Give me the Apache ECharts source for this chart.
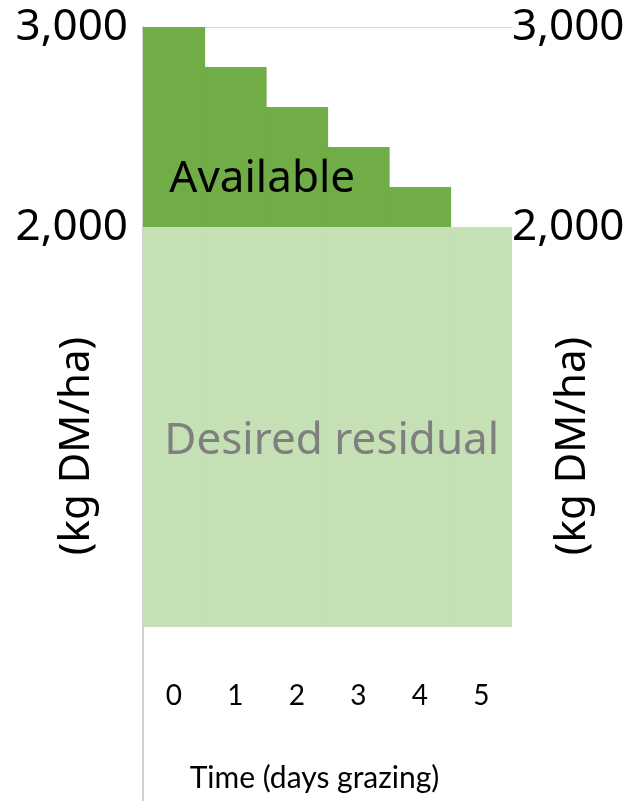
<!DOCTYPE html>
<html>
<head>
<meta charset="utf-8">
<script src="https://cdn.jsdelivr.net/npm/echarts@6/dist/echarts.min.js"></script>
<style>
  html, body { margin: 0; padding: 0; background: #ffffff; }
  #chart { width: 631px; height: 801px; }
</style>
</head>
<body>
<div id="chart"></div>
<script>
// Grazing days along the x axis
const days = ['0', '1', '2', '3', '4', '5'];
// Pasture kept back after grazing (kg DM/ha)
const residual = [2000, 2000, 2000, 2000, 2000, 2000];
// Pasture still on offer above the residual (kg DM/ha)
const available = [1000, 800, 600, 400, 200, 0];
// Values that carry a tick label on each side
const yTickValues = [2000, 3000];

const bigFont = 'Noto Sans';
const smallFont = 'Lato';

const chart = echarts.init(document.getElementById('chart'), null, { renderer: 'canvas' });

const fmt = v => Number(v).toLocaleString('en-US');

const yCommon = {
  type: 'value',
  min: -870,
  max: 3000,
  splitLine: { show: false },
  axisTick: { show: false },
  name: '(kg DM/ha)',
  nameLocation: 'middle',
  nameMoveOverlap: false,
  nameTextStyle: {
    fontFamily: bigFont, fontSize: 42, color: '#000',
    verticalAlign: 'middle', padding: [0, 64, 0, 0]
  },
  axisLabel: {
    customValues: yTickValues,
    formatter: fmt,
    fontFamily: bigFont, fontSize: 44, color: '#000',
    verticalAlign: 'middle'
  }
};

const residualColor = '#C5E0B4';
const availableColor = '#70AD47';

chart.setOption({
  animation: false,
  backgroundColor: '#ffffff',
  grid: {
    left: 143, right: 119, top: 27, bottom: 0,
    containLabel: false, outerBoundsMode: 'none'
  },
  xAxis: [
    {
      type: 'category',
      position: 'top',
      data: days,
      axisLine: { show: true, onZero: false, lineStyle: { color: '#d9d9d9', width: 1 } },
      axisTick: { show: false },
      axisLabel: { show: false }
    },
    {
      type: 'category',
      position: 'bottom',
      data: days,
      offset: -105,
      axisLine: { show: false, onZero: false },
      axisTick: { show: false },
      axisLabel: {
        margin: 0, verticalAlign: 'middle',
        fontFamily: smallFont, fontSize: 28, color: '#000'
      },
      name: 'Time (days grazing)',
      nameLocation: 'middle',
      nameGap: 82,
      nameMoveOverlap: false,
      nameTextStyle: {
        fontFamily: smallFont, fontSize: 30, color: '#000',
        verticalAlign: 'middle', padding: [0, 26, 0, 0]
      }
    }
  ],
  yAxis: [
    Object.assign({}, yCommon, {
      position: 'left',
      nameGap: 66,
      axisLine: { show: true, onZero: false, lineStyle: { color: '#cfcfcf', width: 2 } },
      axisLabel: Object.assign({}, yCommon.axisLabel, { margin: 15, align: 'right' })
    }),
    Object.assign({}, yCommon, {
      position: 'right',
      nameGap: 61,
      axisLine: { show: false, onZero: false },
      axisLabel: Object.assign({}, yCommon.axisLabel, { margin: 0, align: 'left' })
    })
  ],
  series: [
    {
      name: 'Desired residual',
      type: 'bar',
      stack: 'pasture',
      xAxisIndex: 1,
      yAxisIndex: 0,
      barWidth: '102%',
      barCategoryGap: 0,
      itemStyle: { color: residualColor },
      data: residual.map((v, i) => i === 2 ? {
        value: v,
        label: {
          show: true, position: 'inside', formatter: 'Desired residual',
          offset: [35, 14], fontFamily: bigFont, fontSize: 44, color: '#7f7f7f'
        }
      } : v)
    },
    {
      name: 'Available',
      type: 'bar',
      stack: 'pasture',
      xAxisIndex: 1,
      yAxisIndex: 0,
      barWidth: '102%',
      barCategoryGap: 0,
      itemStyle: { color: availableColor },
      data: available.map((v, i) => i === 1 ? {
        value: v,
        label: {
          show: true, position: 'inside', formatter: 'Available',
          offset: [27, 32], fontFamily: bigFont, fontSize: 44, color: '#000'
        }
      } : v)
    }
  ]
});
</script>
</body>
</html>
